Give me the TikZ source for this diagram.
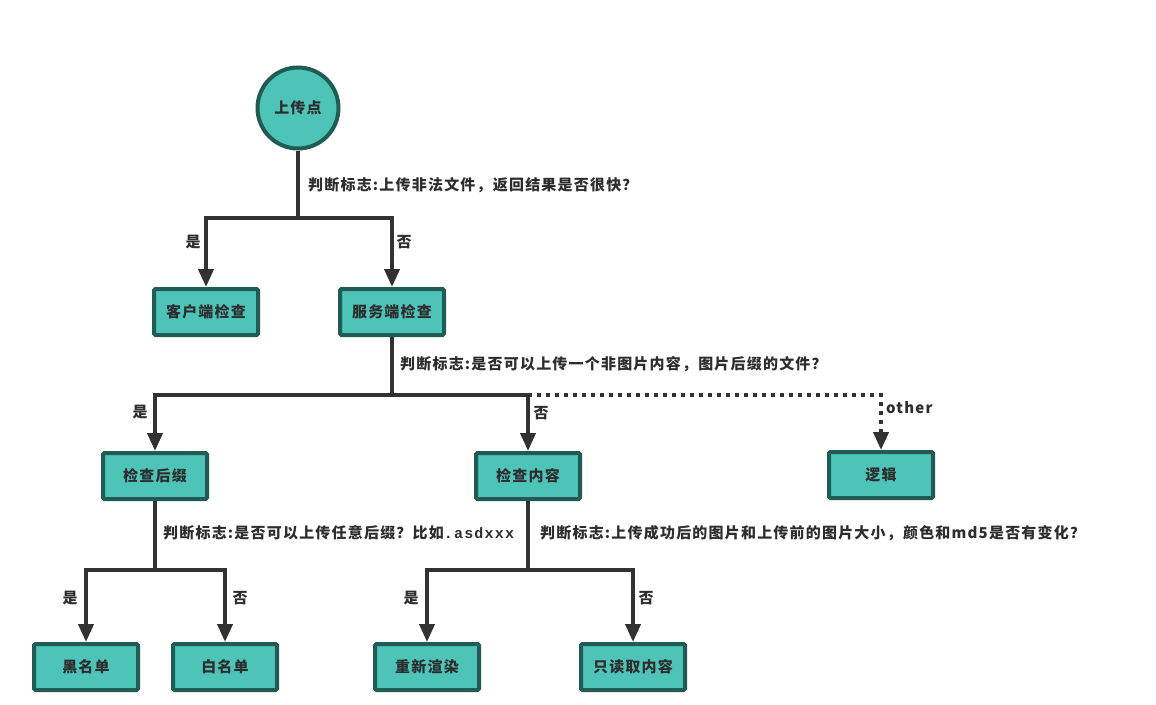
\documentclass[tikz,border=0pt]{standalone}
\usepackage{fontspec}
\setmainfont{Noto Sans CJK SC}[LetterSpace=8]
\setmonofont{Liberation Mono}[LetterSpace=8]
\usetikzlibrary{arrows.meta}
\definecolor{boxfill}{RGB}{78,196,184}
\definecolor{boxline}{RGB}{32,92,84}
\definecolor{wire}{RGB}{50,50,50}
\definecolor{ink}{RGB}{45,45,45}
\tikzset{
    every node/.style={font=\fontsize{15}{17}\selectfont\bfseries, text=ink}
}
\tikzset{
    box/.style={rectangle, fill=boxfill, draw=boxline, line width=4pt,
    	rounded corners=1.5pt, minimum width=104pt, minimum height=46pt}
}
\tikzset{
    wire/.style={draw=wire, line width=4pt},
    arrow/.style={wire, -{Triangle[width=15pt,length=18pt]}},
    dots/.style={arrow, dash pattern=on 4pt off 5pt},
    note/.style={anchor=west, inner sep=0pt}
}

\begin{document}
\begin{tikzpicture}[x=1pt, y=-1pt]
  \useasboundingbox (0,0) rectangle (1156,704);

  \node (start) [circle, fill=boxfill, draw=boxline, line width=4pt,
  	minimum size=81pt] at (298,108) {上传点};
  \node (client) [box] at (206,312) {客户端检查};
  \node (server) [box] at (392,312) {服务端检查};
  \node (suffix) [box] at (155,476) {检查后缀};
  \node (content) [box] at (528,476) {检查内容};
  \node (logic) [box] at (881,475) {逻辑};
  \node (black) [box] at (86,667) {黑名单};
  \node (white) [box] at (225,667) {白名单};
  \node (render) [box] at (427,667) {重新渲染};
  \node (readonly) [box] at (633,667) {只读取内容};

  \coordinate (j1) at (298,218);
  \coordinate (j2) at (392,395);
  \coordinate (j2r) at (528,395);
  \coordinate (j3) at (155,570);
  \coordinate (j4) at (528,570);

  \draw[wire] (start) -- (j1);
  \draw[arrow] (j1) -| (client);
  \draw[arrow] (j1) -| (server);
  \draw[wire] (server) -- (j2);
  \draw[arrow] (j2) -| (suffix);
  \draw[arrow] (j2) -| (content);
  \draw[dots] (j2r) -| (logic);
  \draw[wire] (suffix) -- (j3);
  \draw[arrow] (j3) -| (black);
  \draw[arrow] (j3) -| (white);
  \draw[wire] (content) -- (j4);
  \draw[arrow] (j4) -| (render);
  \draw[arrow] (j4) -| (readonly);

  \node (q1) [note] at (308,185) {判断标志:上传非法文件，返回结果是否很快？};
  \node (q2) [note] at (400,364) {判断标志:是否可以上传一个非图片内容，图片后缀的文件？};
  \node (q3) [note] at (163,533) {判断标志:是否可以上传任意后缀？比如\texttt{.asdxxx}};
  \node (q4) [note] at (540,533) {判断标志:上传成功后的图片和上传前的图片大小，颜色和md5是否有变化？};

  \node (y1) at (193,242) {是};
  \node (n1) at (404,242) {否};
  \node (y2) at (140,412) {是};
  \node (n2) at (541,413) {否};
  \node (other) [note] at (886,408) {other};
  \node (y3) at (70,598) {是};
  \node (n3) at (240,598) {否};
  \node (y4) at (411,598) {是};
  \node (n4) at (646,598) {否};
\end{tikzpicture}
\end{document}
